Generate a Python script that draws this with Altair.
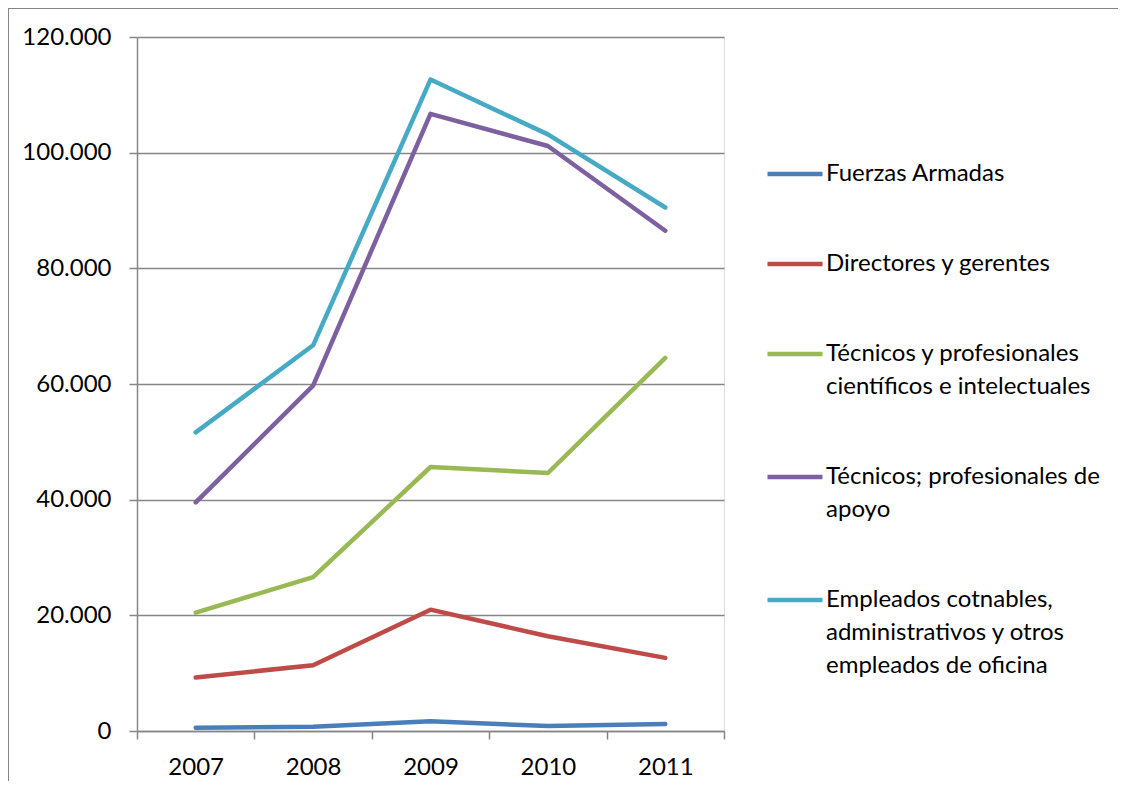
import altair as alt
import pandas as pd

years = ["2007", "2008", "2009", "2010", "2011"]
series = [
    "Fuerzas Armadas",
    "Directores y gerentes",
    "Técnicos y profesionales|científicos e intelectuales",
    "Técnicos; profesionales de|apoyo",
    "Empleados cotnables,|administrativos y otros|empleados de oficina",
]
fuerzas = [580, 750, 1670, 860, 1210]
directores = [9250, 11380, 20980, 16380, 12640]
tec_cient = [20460, 26610, 45650, 44610, 64500]
tec_apoyo = [39540, 59710, 106720, 101150, 86500]
empleados = [51640, 66690, 112640, 103160, 90520]
colors = ["#4A7EBB", "#BE4B48", "#98B954", "#7D60A0", "#46AAC5"]
y_ticks = [0, 20000, 40000, 60000, 80000, 100000, 120000]

values = [fuerzas, directores, tec_cient, tec_apoyo, empleados]
rows = []
for s, vals in zip(series, values):
    for yr, v in zip(years, vals):
        rows.append({"year": yr, "serie": s, "value": v})
df = pd.DataFrame(rows)

FONT = "Lato"
W, H = 587, 694
GRID = "#868686"
LINE_H = 33

legend = alt.Legend(
    title=None, orient="none", legendX=628, legendY=107,
    symbolType="stroke", symbolSize=3025, symbolStrokeWidth=4.5,
    labelFont=FONT, labelFontSize=24, labelColor="#000000",
    labelLimit=400, labelOffset=1, rowPadding=48,
    labelBaseline="middle",
    labelExpr="split(datum.label, '|')",
)

lines = alt.Chart(df).mark_line(strokeWidth=4.5, strokeCap="round", strokeJoin="round").encode(
    x=alt.X("year:O", sort=years,
            scale=alt.Scale(type="band", paddingInner=0, paddingOuter=0),
            axis=alt.Axis(title=None, labelAngle=0, tickBand="extent", grid=False,
                          domainColor=GRID, domainWidth=1.5, tickColor=GRID, tickWidth=1.5,
                          tickSize=8, labelPadding=16, labelFontSize=24, labelFont=FONT,
                          labelColor="#000000")),
    y=alt.Y("value:Q", scale=alt.Scale(domain=[0, 120000], nice=False),
            axis=alt.Axis(title=None, values=y_ticks, grid=True, gridColor=GRID, gridWidth=1.5,
                          domainColor=GRID, domainWidth=1.5, tickColor=GRID, tickWidth=1.5,
                          tickSize=8, labelPadding=18, labelFontSize=24, labelFont=FONT,
                          labelColor="#000000",
                          labelExpr="replace(format(datum.value, ','), ',', '.')")),
    color=alt.Color("serie:N", sort=series,
                    scale=alt.Scale(domain=series, range=colors),
                    legend=legend),
)

border_left = alt.Chart(df).mark_rule(color=GRID, strokeWidth=1.5, strokeCap="butt").encode(
    x=alt.value(-129), y=alt.value(-29), y2=alt.value(H + 300)
)
border_top = alt.Chart(df).mark_rule(color=GRID, strokeWidth=1.5, strokeCap="butt").encode(
    x=alt.value(-129), x2=alt.value(W + 394), y=alt.value(-29), y2=alt.value(-29)
)

chart = alt.layer(border_left, border_top, lines).properties(
    width=W, height=H,
    autosize=alt.AutoSizeParams(type="none"),
    padding={"left": 129, "top": 29, "right": 395, "bottom": 50},
).configure_view(stroke=None).configure(background="white")

chart.save("out.html", embed_options={
    "renderer": "svg", "actions": False,
    "patch": [{"op": "add", "path": "/legends/0/encode",
               "value": {"labels": {"update": {
                   "text": {"signal": "split(datum.value, '|')"},
                   "lineHeight": {"value": LINE_H},
               }}}}],
})
